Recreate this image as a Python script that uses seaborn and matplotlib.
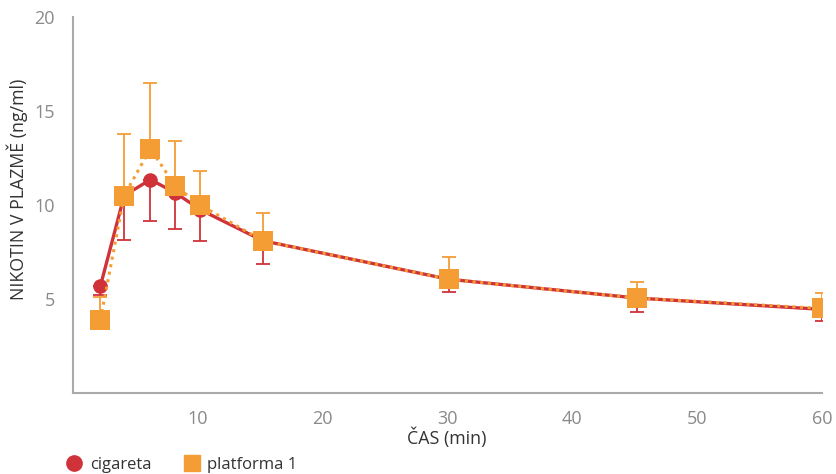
import matplotlib
matplotlib.use("Agg")
import matplotlib.pyplot as plt
from matplotlib.lines import Line2D
import pandas as pd
import seaborn as sns

# time points (min)
time_min = [2.2, 4.1, 6.2, 8.2, 10.2, 15.2, 30.1, 45.2, 60.0]

# nicotine in plasma (ng/ml)
cigareta = [5.7, 10.5, 11.35, 10.65, 9.75, 8.1, 6.05, 5.05, 4.45]
cigareta_err_low = [0.5, 2.35, 2.2, 1.95, 1.65, 1.25, 0.7, 0.75, 0.6]

platforma = [3.9, 10.5, 13.0, 11.0, 10.0, 8.1, 6.05, 5.05, 4.5]
platforma_err_up = [1.2, 3.3, 3.5, 2.4, 1.8, 1.5, 1.2, 0.85, 0.8]

RED = "#cf3339"
ORANGE = "#f59d35"
GREY = "#aaaaaa"

df = pd.DataFrame({
    "time": time_min * 2,
    "value": cigareta + platforma,
    "series": ["cigareta"] * len(time_min) + ["platforma 1"] * len(time_min),
})

sns.set_theme(style="white")
plt.rcParams["font.family"] = ["Open Sans", "DejaVu Sans"]

fig = plt.figure(figsize=(8.36, 4.74), dpi=100)
ax = fig.add_axes([73 / 836, 81 / 474, 749 / 836, 376 / 474])

# error bars (red only downwards, orange only upwards)
ax.errorbar(time_min, cigareta, yerr=[cigareta_err_low, [0] * len(time_min)],
            fmt="none", ecolor=RED, elinewidth=1.3, capsize=5, capthick=1.3, zorder=2)
ax.errorbar(time_min, platforma, yerr=[[0] * len(time_min), platforma_err_up],
            fmt="none", ecolor=ORANGE, elinewidth=1.3, capsize=5, capthick=1.3, zorder=2)

cig = df[df["series"] == "cigareta"]
pla = df[df["series"] == "platforma 1"]
sns.lineplot(ax=ax, data=cig, x="time", y="value", color=RED, linewidth=2.4,
             marker="o", markersize=10.5, markeredgewidth=0, zorder=3)
sns.lineplot(ax=ax, data=pla, x="time", y="value", color=ORANGE, linewidth=2.2,
             linestyle=(0, (1, 1.5)), marker="s", markersize=14.5,
             markeredgewidth=0, zorder=4)

ax.set_xlim(0, 60)
ax.set_ylim(0, 20)
ax.set_xticks([10, 20, 30, 40, 50, 60])
ax.set_yticks([5, 10, 15, 20])

for side in ["top", "right"]:
    ax.spines[side].set_visible(False)
for side in ["left", "bottom"]:
    ax.spines[side].set_color(GREY)
    ax.spines[side].set_linewidth(1.5)
ax.tick_params(axis="both", direction="out", length=7, width=1.5, color=GREY,
               labelsize=13, labelcolor="#8a8a8a", pad=5)
ax.tick_params(axis="y", length=8)
ax.grid(False)

ax.set_xlabel("")
ax.set_ylabel("")
fig.text(447 / 836, 1 - 438 / 474, "ČAS (min)", ha="center", va="center",
         fontsize=12.8, color="#333333")
fig.text(17 / 836, 1 - 189 / 474, "NIKOTIN V PLAZMĚ (ng/ml)", ha="center", va="center",
         rotation=90, fontsize=12.8, color="#333333")

handles = [
    Line2D([], [], color=RED, marker="o", linestyle="none", markersize=11),
    Line2D([], [], color=ORANGE, marker="s", linestyle="none", markersize=11),
]
fig.legend(handles, ["cigareta", "platforma 1"], loc="center left",
           bbox_to_anchor=(56 / 836, 1 - 465 / 474), ncol=2, frameon=False,
           fontsize=12, handletextpad=0.33, columnspacing=1.82,
           borderpad=0, handlelength=1.2, labelcolor="#333333")

fig.savefig("out.png", dpi=100)
